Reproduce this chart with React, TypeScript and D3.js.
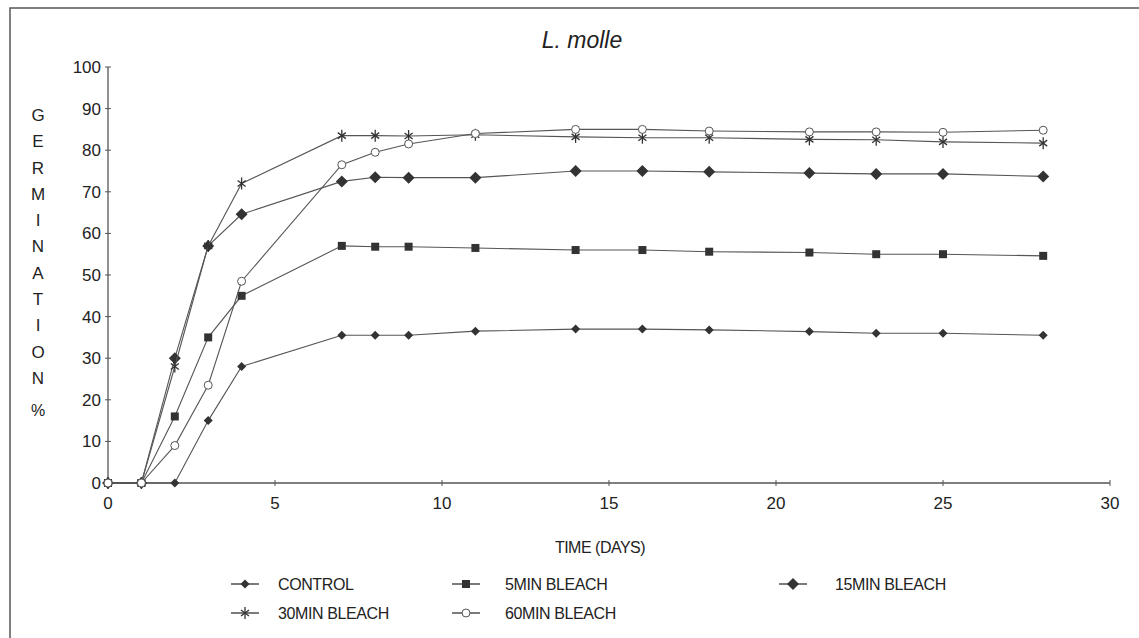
import * as d3 from "d3";

const days = [0, 1, 2, 3, 4, 7, 8, 9, 11, 14, 16, 18, 21, 23, 25, 28];
const control = [0, 0, 0, 15, 28, 35.5, 35.5, 35.5, 36.5, 37, 37, 36.8, 36.4, 36, 36, 35.5];
const min5 = [0, 0, 16, 35, 45, 57, 56.8, 56.8, 56.5, 56, 56, 55.6, 55.4, 55, 55, 54.6];
const min15 = [0, 0, 30, 57, 64.6, 72.5, 73.5, 73.4, 73.4, 75, 75, 74.8, 74.5, 74.3, 74.3, 73.7];
const min30 = [0, 0, 28, 57, 72, 83.5, 83.5, 83.4, 83.7, 83.2, 83, 83, 82.6, 82.5, 82, 81.7];
const min60 = [0, 0, 9, 23.5, 48.5, 76.5, 79.5, 81.5, 84, 85, 85, 84.6, 84.4, 84.4, 84.3, 84.8];

const yTicks = [0, 10, 20, 30, 40, 50, 60, 70, 80, 90, 100];
const xTicks = [0, 5, 10, 15, 20, 25, 30];
const yLetters = ["G", "E", "R", "M", "I", "N", "A", "T", "I", "O", "N"];

type Shape = "smallDiamond" | "square" | "diamond" | "star" | "circle";
const series: { name: string; values: number[]; shape: Shape }[] = [
  { name: "CONTROL", values: control, shape: "smallDiamond" },
  { name: "5MIN BLEACH", values: min5, shape: "square" },
  { name: "15MIN BLEACH", values: min15, shape: "diamond" },
  { name: "30MIN BLEACH", values: min30, shape: "star" },
  { name: "60MIN BLEACH", values: min60, shape: "circle" },
];

const W = 1139;
const H = 638;
const ink = "#333";
const font = "'Liberation Sans', Arial, sans-serif";

function Marker({ shape, x, y }: { shape: Shape; x: number; y: number }) {
  if (shape === "smallDiamond") {
    const s = 4.5;
    return <path d={`M${x},${y - s}L${x + s},${y}L${x},${y + s}L${x - s},${y}Z`} fill={ink} />;
  }
  if (shape === "diamond") {
    const s = 6;
    return <path d={`M${x},${y - s}L${x + s},${y}L${x},${y + s}L${x - s},${y}Z`} fill={ink} />;
  }
  if (shape === "square") {
    return <rect x={x - 4} y={y - 4} width={8} height={8} fill={ink} />;
  }
  if (shape === "circle") {
    return <circle cx={x} cy={y} r={4} fill="#fff" stroke="#555" strokeWidth={1} />;
  }
  return (
    <g stroke={ink} strokeWidth={1.3}>
      <line x1={x} y1={y - 6} x2={x} y2={y + 6} />
      <line x1={x - 4} y1={y - 3} x2={x + 4} y2={y + 3} />
      <line x1={x - 4} y1={y + 3} x2={x + 4} y2={y - 3} />
    </g>
  );
}

export default function App() {
  const x = d3.scaleLinear().domain([0, 30]).range([108, 1110]);
  const y = d3.scaleLinear().domain([0, 100]).range([483, 67]);

  const line = d3
    .line<number>()
    .x((d, i) => x(days[i]))
    .y((d) => y(d));

  // legend slots
  const legendPos = [
    { lx: 245, tx: 278, ty: 584 },
    { lx: 466, tx: 505, ty: 584 },
    { lx: 793, tx: 835, ty: 584 },
    { lx: 245, tx: 278, ty: 613 },
    { lx: 466, tx: 505, ty: 613 },
  ];

  return (
    <svg
      width={W}
      height={H}
      style={{ position: "absolute", left: 0, top: 0, background: "#fff" }}
      fontFamily={font}
    >
      <rect x={0} y={0} width={W} height={H} fill="#fff" />
      <rect x={10} y={8} width={W + 20} height={H + 20} fill="none" stroke="#555" strokeWidth={1.5} />

      <text x={582} y={48} textAnchor="middle" fontSize={23} fontStyle="italic" fill="#222"
        fontFamily="'Liberation Sans Narrow', 'Liberation Sans', Arial, sans-serif">
        L. molle
      </text>

      {/* y axis */}
      <line x1={x(0)} y1={y(0)} x2={x(0)} y2={y(100)} stroke="#555" strokeWidth={1.3} />
      {yTicks.map((t) => (
        <g key={t}>
          <line x1={x(0) - 3} x2={x(0) + 3} y1={y(t)} y2={y(t)} stroke="#555" />
          <text x={x(0) - 7} y={y(t)} dy="0.35em" textAnchor="end" fontSize={17} fill="#222">
            {t}
          </text>
        </g>
      ))}

      {/* x axis */}
      <line x1={x(0)} y1={y(0)} x2={x(30)} y2={y(0)} stroke="#555" strokeWidth={1.3} />
      {xTicks.map((t) => (
        <g key={t}>
          <line x1={x(t)} x2={x(t)} y1={y(0) - 3} y2={y(0) + 3} stroke="#555" />
          <text x={x(t)} y={y(0) + 26} textAnchor="middle" fontSize={17} fill="#222">
            {t}
          </text>
        </g>
      ))}

      {yLetters.map((l, i) => (
        <text key={i} x={38} y={115 + i * 26.3} dy="0.35em" textAnchor="middle" fontSize={17} fill="#222">
          {l}
        </text>
      ))}
      <text x={38} y={410} dy="0.35em" textAnchor="middle" fontSize={16} fill="#222">
        %
      </text>

      <text x={600} y={553} textAnchor="middle" fontSize={16} fill="#222" letterSpacing={-0.5}>
        TIME (DAYS)
      </text>

      {series.map((s) => (
        <g key={s.name}>
          <path d={line(s.values) ?? ""} fill="none" stroke="#555" strokeWidth={1.1} />
          {s.values.map((v, i) => (
            <Marker key={i} shape={s.shape} x={x(days[i])} y={y(v)} />
          ))}
        </g>
      ))}

      {series.map((s, i) => {
        const p = legendPos[i];
        return (
          <g key={s.name}>
            <line x1={p.lx - 14} x2={p.lx + 14} y1={p.ty} y2={p.ty} stroke={ink} strokeWidth={1.3} />
            <Marker shape={s.shape} x={p.lx} y={p.ty} />
            <text x={p.tx} y={p.ty} dy="0.35em" fontSize={16} fill="#222" letterSpacing={-0.4}>
              {s.name}
            </text>
          </g>
        );
      })}
    </svg>
  );
}
